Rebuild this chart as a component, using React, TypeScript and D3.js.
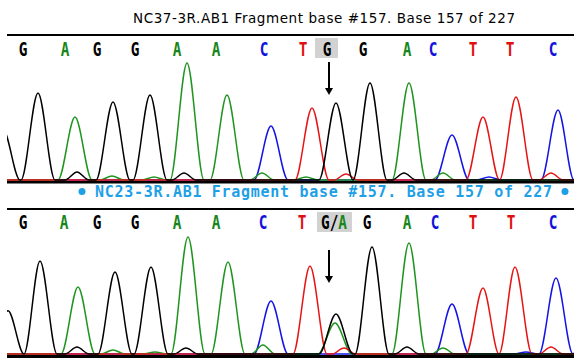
import React from 'react';
import * as d3 from 'd3';

// Base calls shown above each trace
const baseCalls = ['G', 'A', 'G', 'G', 'A', 'A', 'C', 'T', 'G', 'G', 'A', 'C', 'T', 'T', 'C'];
const topCallPos = [23, 65, 97, 135, 177, 216, 264, 303, 327, 363, 407, 433, 473, 510, 553];
const bottomCallPos = [23, 64, 97, 135, 177, 216, 263, 302, 334, 367, 407, 435, 473, 511, 553];

const topTitle = 'NC37-3R.AB1 Fragment base #157. Base 157 of 227';
const bottomTitle = 'NC23-3R.AB1 Fragment base #157. Base 157 of 227';

// Peaks: [scan position, intensity]
const topG: [number, number][] = [[-4, 420], [31, 725], [70, 67], [106, 650], [143, 708], [177, 58], [329, 642], [363, 808], [397, 58]];
const topA: [number, number][] = [[68, 525], [105, 33], [147, 25], [180, 975], [220, 708], [255, 58], [299, 25], [402, 808], [436, 58]];
const topC: [number, number][] = [[264, 450], [445, 375], [482, 25], [551, 583], [583, 500]];
const topT: [number, number][] = [[305, 600], [339, 50], [476, 525], [509, 692], [544, 58]];

const botG: [number, number][] = [[1, 360], [33, 775], [70, 58], [108, 683], [144, 725], [179, 50], [329, 333], [365, 892], [400, 58]];
const botA: [number, number][] = [[71, 558], [106, 33], [148, 17], [181, 975], [221, 767], [256, 75], [328, 258], [402, 925], [436, 50]];
const botC: [number, number][] = [[264, 442], [445, 417], [519, 17], [549, 633], [583, 550]];
const botT: [number, number][] = [[303, 733], [337, 50], [476, 550], [508, 725], [544, 58]];

const COLORS: Record<string, string> = { G: '#000000', A: '#1f951f', C: '#1414e6', T: '#e61414' };
const TEXT_COLORS: Record<string, string> = { G: '#000000', A: '#17861a', C: '#1212dd', T: '#e01010' };

const W = 574;
const H = 358;
const x = d3.scaleLinear().domain([0, 567]).range([7, 574]);

const tracePoints = (peaks: [number, number][]) => {
  const pts: [number, number][] = [[-40, 0]];
  peaks.forEach(([p, h]) => {
    const w = h < 100 ? 12 : 17;
    const left = p - w;
    const last = pts[pts.length - 1];
    if (last[0] >= left) {
      pts.pop();
      pts.push([(last[0] + left) / 2, 0]);
    } else {
      pts.push([left, 0]);
    }
    pts.push([p, h]);
    pts.push([p + w, 0]);
  });
  pts.push([620, 0]);
  return pts;
};

const Traces: React.FC<{ baseline: number; series: [string, [number, number][]][]; clip: string }> = ({ baseline, series, clip }) => {
  const y = d3.scaleLinear().domain([0, 1000]).range([baseline, baseline - 120]);
  const line = d3.line<[number, number]>().x(d => x(d[0])).y(d => y(d[1])).curve(d3.curveMonotoneX);
  return (
    <g clipPath={`url(#${clip})`}>
      {series.map(([base, peaks]) => (
        <path key={base} d={line(tracePoints(peaks)) || ''} fill="none" stroke={COLORS[base]} strokeWidth={1.5} />
      ))}
    </g>
  );
};

const Calls: React.FC<{ pos: number[]; y: number; highlight: number }> = ({ pos, y, highlight }) => (
  <g fontFamily="'DejaVu Sans Mono', monospace" fontWeight="bold" fontSize={20}>
    {baseCalls.map((b, i) => {
      if (i === highlight && pos === bottomCallPos) {
        return (
          <g key={i} transform={`translate(${pos[i]},${y}) scale(0.72,1)`}>
            <text textAnchor="middle">
              <tspan fill="#000">G/</tspan>
              <tspan fill={TEXT_COLORS.A}>A</tspan>
            </text>
          </g>
        );
      }
      return (
        <g key={i} transform={`translate(${pos[i]},${y}) scale(0.72,1)`}>
          <text textAnchor="middle" fill={TEXT_COLORS[b]}>{b}</text>
        </g>
      );
    })}
  </g>
);

const Arrow: React.FC<{ cx: number; y1: number; y2: number }> = ({ cx, y1, y2 }) => (
  <g>
    <line x1={cx} x2={cx} y1={y1} y2={y2 - 6} stroke="#000" strokeWidth={2} />
    <path d={`M${cx - 4},${y2 - 7} L${cx + 4},${y2 - 7} L${cx},${y2} Z`} fill="#000" />
  </g>
);

const App: React.FC = () => {
  return (
    <svg width={W} height={H} style={{ position: 'absolute', left: 0, top: 0, background: '#fff' }}>
      <defs>
        <clipPath id="clipTop"><rect x={7} y={60} width={W - 7} height={122} /></clipPath>
        <clipPath id="clipBot"><rect x={7} y={232} width={W - 7} height={124} /></clipPath>
      </defs>
      <rect x={0} y={0} width={W} height={H} fill="#fff" />

      {/* top trace */}
      <text x={133} y={23} fontFamily="'DejaVu Sans', sans-serif" fontSize={13.5} textLength={382} lengthAdjust="spacing" fill="#000">{topTitle}</text>
      <rect x={7} y={34} width={W - 7} height={2} fill="#000" />
      <rect x={315} y={38} width={23} height={20} fill="#d2d2d2" />
      <Calls pos={topCallPos} y={56} highlight={8} />
      <Arrow cx={329} y1={62} y2={95} />
      <Traces baseline={180} clip="clipTop" series={[['C', topC], ['A', topA], ['T', topT], ['G', topG]]} />
      <rect x={7} y={181} width={W - 7} height={2.5} fill="#000" />

      {/* bottom trace */}
      <circle cx={82} cy={191.5} r={3.5} fill="#1ea0e6" />
      <text x={95} y={197} fontFamily="'DejaVu Sans Mono', monospace" fontWeight="bold" fontSize={15} textLength={457} lengthAdjust="spacing" fill="#1ea0e6">{bottomTitle}</text>
      <circle cx={565} cy={191.5} r={3.5} fill="#1ea0e6" />
      <rect x={7} y={208} width={W - 7} height={2} fill="#000" />
      <rect x={317} y={212} width={35} height={20} fill="#d2d2d2" />
      <Calls pos={bottomCallPos} y={229} highlight={8} />
      <Arrow cx={329} y1={250} y2={283} />
      <Traces baseline={354} clip="clipBot" series={[['C', botC], ['A', botA], ['T', botT], ['G', botG]]} />
      <rect x={7} y={355} width={W - 7} height={3} fill="#000" />
    </svg>
  );
};

export default App;
